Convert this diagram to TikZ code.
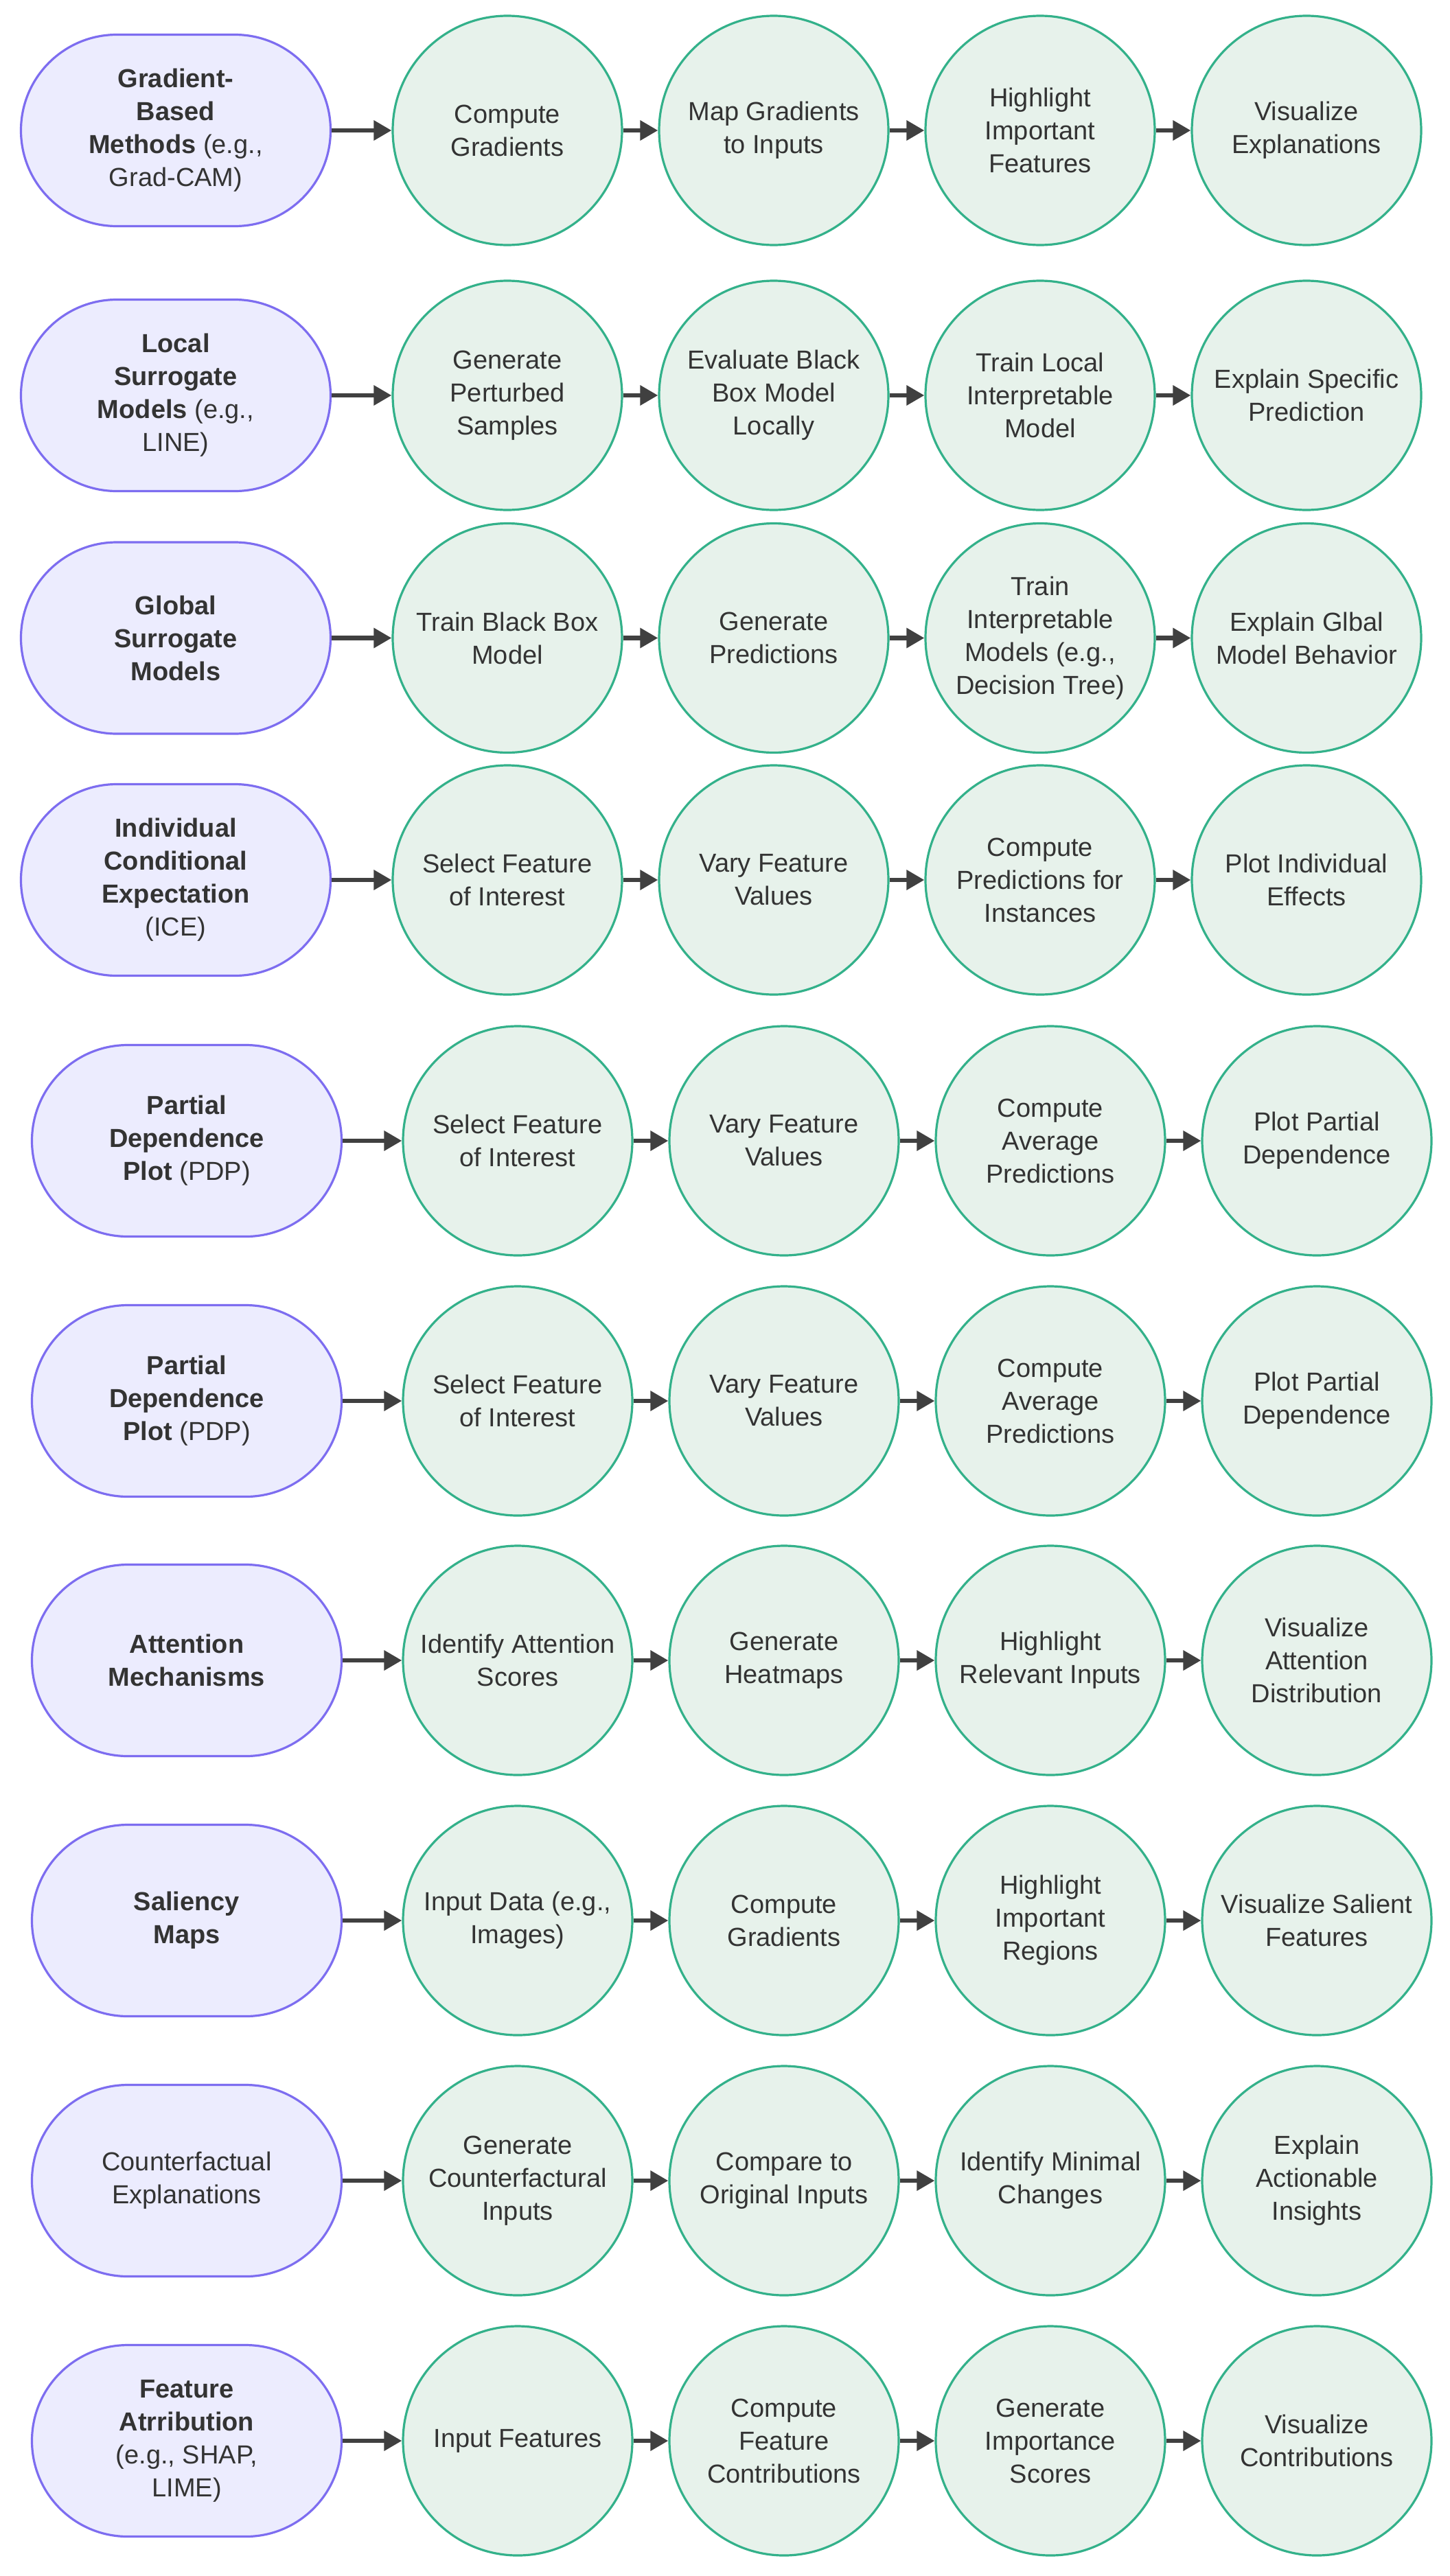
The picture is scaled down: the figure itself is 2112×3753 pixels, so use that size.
\documentclass[tikz,border=0pt]{standalone}
\usepackage{fontspec}
\setmainfont{Liberation Sans}
\usetikzlibrary{arrows.meta}
\definecolor{stfill}{HTML}{ECECFE}
\definecolor{stdraw}{HTML}{7D6DF0}
\definecolor{cifill}{HTML}{E7F2EB}
\definecolor{cidraw}{HTML}{33B18A}
\definecolor{txt}{HTML}{333333}
\definecolor{arrc}{HTML}{404040}
\tikzset{
  stad/.style={rectangle, rounded corners=69.75pt, minimum width=225.5pt, minimum height=139.5pt,
    draw=stdraw, fill=stfill, line width=1.6pt, align=center, text=txt, inner sep=0pt,
    font=\fontsize{19}{24}\selectfont},
  circ/.style={circle, minimum size=167pt, draw=cidraw, fill=cifill, line width=1.6pt, align=center,
    text=txt, inner sep=0pt, font=\fontsize{19}{24}\selectfont},
  arr/.style={-{Triangle[length=13pt,width=14pt]}, line width=3.2pt, draw=arrc}
}
\begin{document}
\begin{tikzpicture}[x=0.5pt,y=-0.5pt]
\path[use as bounding box, fill=white] (0,0) rectangle (2112,3753);
% rows 1-4
\def\xa{256}\def\xb{739}\def\xc{1127}\def\xd{1515}\def\xe{1903}
\node[stad] (s1) at (\xa,190) {\textbf{Gradient-}\\\textbf{Based}\\\textbf{Methods} (e.g.,\\Grad-CAM)};
\node[circ] (a1) at (\xb,190) {Compute\\Gradients};
\node[circ] (b1) at (\xc,190) {Map Gradients\\to Inputs};
\node[circ] (c1) at (\xd,190) {Highlight\\Important\\Features};
\node[circ] (d1) at (\xe,190) {Visualize\\Explanations};

\node[stad] (s2) at (\xa,576) {\textbf{Local}\\\textbf{Surrogate}\\\textbf{Models} (e.g.,\\LINE)};
\node[circ] (a2) at (\xb,576) {Generate\\Perturbed\\Samples};
\node[circ] (b2) at (\xc,576) {Evaluate Black\\Box Model\\Locally};
\node[circ] (c2) at (\xd,576) {Train Local\\Interpretable\\Model};
\node[circ] (d2) at (\xe,576) {Explain Specific\\Prediction};

\node[stad] (s3) at (\xa,929.5) {\textbf{Global}\\\textbf{Surrogate}\\\textbf{Models}};
\node[circ] (a3) at (\xb,929.5) {Train Black Box\\Model};
\node[circ] (b3) at (\xc,929.5) {Generate\\Predictions};
\node[circ] (c3) at (\xd,929.5) {Train\\Interpretable\\Models (e.g.,\\Decision Tree)};
\node[circ] (d3) at (\xe,929.5) {Explain Glbal\\Model Behavior};

\node[stad] (s4) at (\xa,1282) {\textbf{Individual}\\\textbf{Conditional}\\\textbf{Expectation}\\(ICE)};
\node[circ] (a4) at (\xb,1282) {Select Feature\\of Interest};
\node[circ] (b4) at (\xc,1282) {Vary Feature\\Values};
\node[circ] (c4) at (\xd,1282) {Compute\\Predictions for\\Instances};
\node[circ] (d4) at (\xe,1282) {Plot Individual\\Effects};

% rows 5-10
\def\xa{272}\def\xb{754}\def\xc{1142}\def\xd{1530}\def\xe{1918}
\node[stad] (s5) at (\xa,1662) {\textbf{Partial}\\\textbf{Dependence}\\\textbf{Plot} (PDP)};
\node[circ] (a5) at (\xb,1662) {Select Feature\\of Interest};
\node[circ] (b5) at (\xc,1662) {Vary Feature\\Values};
\node[circ] (c5) at (\xd,1662) {Compute\\Average\\Predictions};
\node[circ] (d5) at (\xe,1662) {Plot Partial\\Dependence};

\node[stad] (s6) at (\xa,2041) {\textbf{Partial}\\\textbf{Dependence}\\\textbf{Plot} (PDP)};
\node[circ] (a6) at (\xb,2041) {Select Feature\\of Interest};
\node[circ] (b6) at (\xc,2041) {Vary Feature\\Values};
\node[circ] (c6) at (\xd,2041) {Compute\\Average\\Predictions};
\node[circ] (d6) at (\xe,2041) {Plot Partial\\Dependence};

\node[stad] (s7) at (\xa,2419) {\textbf{Attention}\\\textbf{Mechanisms}};
\node[circ] (a7) at (\xb,2419) {Identify Attention\\Scores};
\node[circ] (b7) at (\xc,2419) {Generate\\Heatmaps};
\node[circ] (c7) at (\xd,2419) {Highlight\\Relevant Inputs};
\node[circ] (d7) at (\xe,2419) {Visualize\\Attention\\Distribution};

\node[stad] (s8) at (\xa,2798) {\textbf{Saliency}\\\textbf{Maps}};
\node[circ] (a8) at (\xb,2798) {Input Data (e.g.,\\Images)};
\node[circ] (b8) at (\xc,2798) {Compute\\Gradients};
\node[circ] (c8) at (\xd,2798) {Highlight\\Important\\Regions};
\node[circ] (d8) at (\xe,2798) {Visualize Salient\\Features};

\node[stad] (s9) at (\xa,3177) {Counterfactual\\Explanations};
\node[circ] (a9) at (\xb,3177) {Generate\\Counterfactural\\Inputs};
\node[circ] (b9) at (\xc,3177) {Compare to\\Original Inputs};
\node[circ] (c9) at (\xd,3177) {Identify Minimal\\Changes};
\node[circ] (d9) at (\xe,3177) {Explain\\Actionable\\Insights};

\node[stad] (s10) at (\xa,3556) {\textbf{Feature}\\\textbf{Atrribution}\\(e.g., SHAP,\\LIME)};
\node[circ] (a10) at (\xb,3556) {Input Features};
\node[circ] (b10) at (\xc,3556) {Compute\\Feature\\Contributions};
\node[circ] (c10) at (\xd,3556) {Generate\\Importance\\Scores};
\node[circ] (d10) at (\xe,3556) {Visualize\\Contributions};

\foreach \r in {1,...,10}{
  \draw[arr] (s\r.east) -- (a\r.west);
  \draw[arr] (a\r.east) -- (b\r.west);
  \draw[arr] (b\r.east) -- (c\r.west);
  \draw[arr] (c\r.east) -- (d\r.west);
}
\end{tikzpicture}
\end{document}
